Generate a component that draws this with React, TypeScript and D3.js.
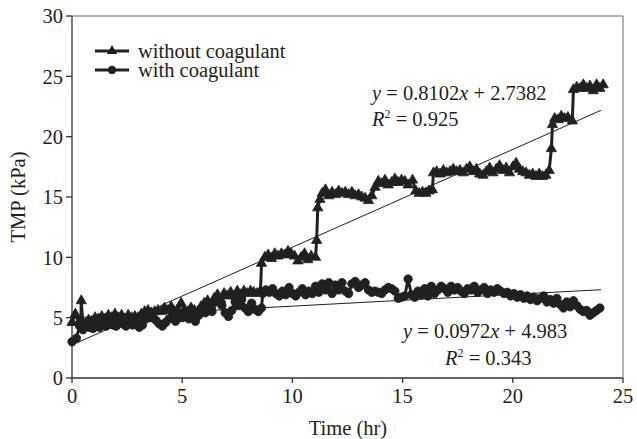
import React from "react";
import * as d3 from "d3";

const xTicks = [0, 5, 10, 15, 20, 25];
const yTicks = [0, 5, 10, 15, 20, 25, 30];

const seriesNames = ["without coagulant", "with coagulant"];

// [time (hr), TMP (kPa)]
const withoutCoagulant: [number, number][] = [
  [0, 4.6], [0.15, 5.3], [0.3, 4.6], [0.4, 4.5], [0.42, 6.4], [0.5, 4.4], [0.6, 4.5], [0.75, 4.8], [0.9, 4.7], [1.05, 5.0],
  [1.2, 4.9], [1.35, 5.1], [1.5, 4.9], [1.65, 5.2], [1.8, 5.0], [1.95, 5.3], [2.1, 5.0], [2.25, 5.2], [2.4, 4.9],
  [2.55, 5.2], [2.7, 5.0], [2.85, 5.1], [3.0, 5.0], [3.15, 5.3], [3.3, 5.5], [3.45, 5.6], [3.6, 5.4], [3.75, 5.5],
  [3.9, 5.6], [4.05, 5.5], [4.2, 5.8], [4.35, 5.6], [4.5, 5.9], [4.65, 5.5], [4.8, 5.7], [4.95, 6.2], [5.1, 5.6],
  [5.25, 5.5], [5.4, 5.8], [5.55, 5.6], [5.7, 5.5], [5.85, 5.9], [6.0, 6.2], [6.15, 6.4], [6.3, 6.0], [6.45, 6.6],
  [6.6, 6.9], [6.75, 6.5], [6.9, 7.0], [7.05, 6.8], [7.2, 7.1], [7.35, 6.8], [7.5, 7.2], [7.65, 6.9], [7.8, 7.2],
  [7.95, 7.0], [8.1, 7.2], [8.25, 7.1], [8.4, 7.0], [8.55, 7.2],
  [8.6, 9.5], [8.75, 10.0], [8.9, 10.2], [9.05, 9.9], [9.2, 10.3], [9.35, 10.1], [9.5, 10.3], [9.65, 10.2],
  [9.8, 10.5], [9.95, 10.3], [10.1, 10.1], [10.25, 9.7], [10.4, 10.0], [10.55, 10.3], [10.7, 9.8], [10.85, 10.1], [11.05, 10.0],
  [11.1, 11.4], [11.15, 14.1], [11.25, 14.8], [11.35, 15.3], [11.5, 15.6], [11.65, 15.1], [11.8, 15.4], [11.95, 15.2],
  [12.1, 15.5], [12.25, 15.3], [12.4, 15.4], [12.55, 15.2], [12.7, 15.4], [12.85, 15.1], [13.0, 15.2], [13.15, 15.0],
  [13.3, 14.9], [13.45, 14.7], [13.6, 15.1], [13.75, 15.8], [13.9, 16.3], [14.05, 16.1], [14.2, 16.4], [14.35, 16.0],
  [14.5, 16.2], [14.65, 16.5], [14.8, 16.2], [14.95, 16.4], [15.1, 16.3], [15.25, 16.0], [15.45, 16.4], [15.6, 15.5],
  [15.75, 15.3], [15.9, 15.4], [16.05, 15.3], [16.2, 15.5], [16.35, 15.6],
  [16.4, 17.0], [16.55, 17.1], [16.7, 16.9], [16.85, 17.2], [17.0, 17.0], [17.15, 17.1], [17.3, 17.3], [17.45, 17.1],
  [17.6, 17.2], [17.75, 17.0], [17.9, 17.3], [18.05, 17.5], [18.2, 17.1], [18.35, 17.3], [18.5, 16.9], [18.65, 16.8],
  [18.8, 17.1], [18.95, 17.4], [19.1, 17.0], [19.25, 17.3], [19.4, 17.6], [19.55, 17.2], [19.7, 17.4], [19.85, 17.0],
  [20.0, 17.5], [20.15, 17.8], [20.3, 17.3], [20.45, 17.1], [20.6, 17.0], [20.75, 16.8], [20.9, 16.9], [21.05, 16.7],
  [21.2, 16.9], [21.35, 16.7], [21.5, 16.8], [21.65, 17.2],
  [21.75, 19.0], [21.8, 21.0], [21.9, 21.5], [22.05, 21.4], [22.2, 21.7], [22.35, 21.5], [22.5, 21.6], [22.7, 21.3],
  [22.75, 23.9], [22.9, 24.1], [23.05, 24.0], [23.2, 24.3], [23.35, 24.0], [23.5, 24.2], [23.65, 23.8], [23.8, 24.3],
  [23.95, 24.0], [24.1, 24.3],
];

const withCoagulant: [number, number][] = [
  [0, 3.0], [0.2, 3.3], [0.35, 4.3], [0.5, 4.0], [0.65, 4.4], [0.8, 4.2], [0.95, 4.1], [1.1, 4.5], [1.25, 4.2],
  [1.4, 4.4], [1.55, 4.3], [1.7, 4.6], [1.85, 4.4], [2.0, 4.3], [2.15, 4.6], [2.3, 4.5], [2.45, 4.3], [2.6, 4.6],
  [2.75, 4.4], [2.9, 4.7], [3.05, 4.2], [3.2, 4.4], [3.35, 4.9], [3.5, 5.0], [3.65, 5.0], [3.8, 4.8], [3.95, 4.5],
  [4.1, 4.3], [4.25, 4.6], [4.4, 4.9], [4.55, 5.1], [4.7, 4.7], [4.85, 5.3], [5.0, 5.0], [5.15, 5.5], [5.3, 4.9],
  [5.45, 5.3], [5.6, 4.7], [5.75, 5.2], [5.9, 5.5], [6.05, 5.4], [6.2, 5.8], [6.35, 5.5], [6.5, 6.3], [6.65, 6.4],
  [6.8, 6.0], [6.95, 5.4], [7.1, 5.1], [7.25, 5.6], [7.4, 6.3], [7.55, 6.0], [7.7, 6.5], [7.85, 5.8], [8.0, 5.5],
  [8.15, 6.2], [8.3, 5.7], [8.45, 5.5], [8.6, 5.8], [8.65, 7.0], [8.8, 7.3], [8.95, 7.1], [9.1, 7.4], [9.25, 7.0],
  [9.4, 6.8], [9.55, 7.2], [9.7, 6.9], [9.85, 7.5], [10.0, 7.0], [10.15, 6.8], [10.3, 7.1], [10.45, 7.4], [10.6, 6.9],
  [10.75, 7.2], [10.9, 7.0], [11.05, 7.6], [11.2, 7.1], [11.35, 7.8], [11.5, 7.3], [11.65, 7.9], [11.8, 7.0],
  [11.95, 7.7], [12.1, 7.3], [12.25, 7.9], [12.4, 7.2], [12.55, 7.0], [12.7, 7.8], [12.85, 8.0], [13.0, 7.5],
  [13.15, 7.7], [13.3, 7.9], [13.45, 7.3], [13.6, 7.1], [13.75, 7.2], [13.9, 7.1], [14.05, 7.0], [14.2, 7.3],
  [14.35, 7.5], [14.5, 7.4], [14.65, 7.2], [14.8, 6.6], [14.95, 6.7], [15.1, 6.8], [15.25, 8.2], [15.4, 6.9],
  [15.55, 6.7], [15.7, 7.2], [15.85, 6.9], [16.0, 7.4], [16.15, 6.8], [16.3, 7.6], [16.45, 7.0], [16.6, 7.3],
  [16.75, 7.6], [16.9, 7.4], [17.05, 7.1], [17.2, 7.6], [17.35, 7.3], [17.5, 7.5], [17.65, 7.2], [17.8, 7.0],
  [17.95, 7.4], [18.1, 7.3], [18.25, 7.6], [18.4, 7.1], [18.55, 7.3], [18.7, 7.5], [18.85, 7.0], [19.0, 7.3],
  [19.15, 7.1], [19.3, 7.4], [19.45, 7.2], [19.6, 7.0], [19.75, 7.1], [19.9, 6.8], [20.05, 7.0], [20.2, 6.7],
  [20.35, 6.9], [20.5, 6.6], [20.65, 6.8], [20.8, 6.5], [20.95, 6.7], [21.1, 6.4], [21.25, 6.6], [21.4, 6.8],
  [21.55, 6.3], [21.7, 6.5], [21.85, 6.2], [22.0, 6.6], [22.15, 6.1], [22.3, 5.8], [22.45, 6.3], [22.6, 5.9],
  [22.75, 6.4], [22.9, 6.0], [23.05, 5.7], [23.2, 5.5], [23.35, 5.6], [23.5, 5.2], [23.65, 5.4], [23.8, 5.6], [23.95, 5.8],
];

// trendline coefficients [slope, intercept], and x-extent
const trendWithout = [0.8102, 2.7382];
const trendWith = [0.0972, 4.983];
const trendRange = [0, 24];

const W = 637;
const H = 439;
const INK = "#231f20";
const FONT = "'Liberation Serif', 'Times New Roman', serif";
const FS = 20.5;

export default function App() {
  const x = d3.scaleLinear().domain([0, 25]).range([72, 623]);
  const y = d3.scaleLinear().domain([0, 30]).range([378, 16]);

  const line = d3
    .line<[number, number]>()
    .x((d) => x(d[0]))
    .y((d) => y(d[1]));

  const tri = d3.symbol().type(d3.symbolTriangle).size(46)();
  const circ = d3.symbol().type(d3.symbolCircle).size(56)();

  const trendLine = (c: number[]) =>
    line(trendRange.map((t) => [t, c[0] * t + c[1]] as [number, number]));

  return (
    <svg
      width={W}
      height={H}
      style={{ position: "absolute", left: 0, top: 0, background: "#fff" }}
      fontFamily={FONT}
    >
      {/* frame (top / right) */}
      <line x1={x(0)} x2={x(25)} y1={y(30)} y2={y(30)} stroke="#666" strokeWidth={1} />
      <line x1={x(25)} x2={x(25)} y1={y(30)} y2={y(0)} stroke="#666" strokeWidth={1} />

      {/* axes */}
      <line x1={x(0)} x2={x(0)} y1={y(30)} y2={y(0)} stroke="#333" strokeWidth={1.3} />
      <line x1={x(0)} x2={x(25)} y1={y(0)} y2={y(0)} stroke="#333" strokeWidth={1.3} />

      {yTicks.map((t) => (
        <g key={"y" + t}>
          <line x1={x(0) - 6} x2={x(0)} y1={y(t)} y2={y(t)} stroke="#333" strokeWidth={1.3} />
          <text x={x(0) - 9} y={y(t)} dy="0.35em" textAnchor="end" fontSize={FS} fill={INK}>
            {t}
          </text>
        </g>
      ))}
      {xTicks.map((t) => (
        <g key={"x" + t}>
          <line x1={x(t)} x2={x(t)} y1={y(0)} y2={y(0) + 5} stroke="#333" strokeWidth={1.3} />
          <text x={x(t)} y={403} textAnchor="middle" fontSize={FS} fill={INK}>
            {t}
          </text>
        </g>
      ))}

      <text x={348} y={435} textAnchor="middle" fontSize={FS} fill={INK}>
        Time (hr)
      </text>
      <text
        transform={`translate(25, ${y(15)}) rotate(-90)`}
        textAnchor="middle"
        fontSize={FS}
        fill={INK}
      >
        TMP (kPa)
      </text>

      {/* series */}
      <path d={line(withCoagulant) || ""} fill="none" stroke={INK} strokeWidth={3} strokeLinejoin="round" />
      {withCoagulant.map((d, i) => (
        <path key={"c" + i} d={circ || ""} transform={`translate(${x(d[0])},${y(d[1])})`} fill={INK} stroke={INK} strokeWidth={0.8} />
      ))}
      <path d={line(withoutCoagulant) || ""} fill="none" stroke={INK} strokeWidth={3} strokeLinejoin="round" />
      {withoutCoagulant.map((d, i) => (
        <path key={"t" + i} d={tri || ""} transform={`translate(${x(d[0])},${y(d[1])})`} fill={INK} stroke={INK} strokeWidth={0.8} />
      ))}

      {/* trend lines */}
      <path d={trendLine(trendWithout) || ""} fill="none" stroke={INK} strokeWidth={1} />
      <path d={trendLine(trendWith) || ""} fill="none" stroke={INK} strokeWidth={1} />

      {/* equations */}
      <text x={372} y={100} fontSize={FS} fill={INK}>
        <tspan fontStyle="italic">y</tspan> = 0.8102<tspan fontStyle="italic">x</tspan> + 2.7382
      </text>
      <text x={372} y={126} fontSize={FS} fill={INK}>
        <tspan fontStyle="italic">R</tspan>
        <tspan fontSize={12} dy={-8}>2</tspan>
        <tspan dy={8}> = 0.925</tspan>
      </text>
      <text x={403} y={338} fontSize={FS} fill={INK}>
        <tspan fontStyle="italic">y</tspan> = 0.0972<tspan fontStyle="italic">x</tspan> + 4.983
      </text>
      <text x={445} y={365} fontSize={FS} fill={INK}>
        <tspan fontStyle="italic">R</tspan>
        <tspan fontSize={12} dy={-8}>2</tspan>
        <tspan dy={8}> = 0.343</tspan>
      </text>

      {/* legend */}
      {seriesNames.map((name, i) => {
        const ly = 51 + i * 19;
        return (
          <g key={name}>
            <line x1={95} x2={129} y1={ly} y2={ly} stroke={INK} strokeWidth={3} />
            <path d={(i === 0 ? tri : circ) || ""} transform={`translate(112,${ly})`} fill={INK} />
            <text x={138} y={ly} dy="0.32em" fontSize={FS} fill={INK}>
              {name}
            </text>
          </g>
        );
      })}
    </svg>
  );
}
